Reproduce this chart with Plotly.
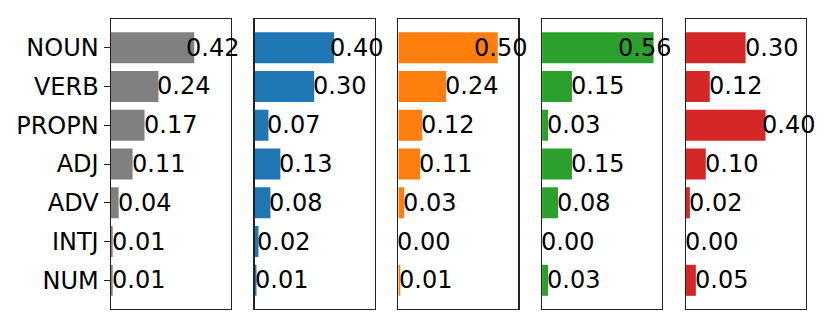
import plotly.graph_objects as go

categories = ["NOUN", "VERB", "PROPN", "ADJ", "ADV", "INTJ", "NUM"]
overall = [0.42, 0.24, 0.17, 0.11, 0.04, 0.01, 0.01]
series_blue = [0.40, 0.30, 0.07, 0.13, 0.08, 0.02, 0.01]
series_orange = [0.50, 0.24, 0.12, 0.11, 0.03, 0.00, 0.01]
series_green = [0.56, 0.15, 0.03, 0.15, 0.08, 0.00, 0.03]
series_red = [0.30, 0.12, 0.40, 0.10, 0.02, 0.00, 0.05]

panels = [overall, series_blue, series_orange, series_green, series_red]
colors = ["#808080", "#1f77b4", "#ff7f0e", "#2ca02c", "#d62728"]

W, H = 830, 328
left0, step, pw = 110.7, 143.8, 120.0
xmax = 0.603
label_cap = 0.385
font = dict(family="DejaVu Sans", size=24, color="black")

fig = go.Figure()
annotations = []
for i, (vals, col) in enumerate(zip(panels, colors)):
    n = "" if i == 0 else str(i + 1)
    fig.add_trace(go.Bar(
        x=vals, y=categories, orientation="h",
        marker=dict(color=col, line=dict(width=0)),
        xaxis="x" + n, yaxis="y" + n, showlegend=False,
        hoverinfo="skip",
    ))
    x0 = left0 + i * step
    fig.layout["xaxis" + n] = dict(
        domain=[x0 / W, (x0 + pw) / W], range=[0, xmax],
        showgrid=False, zeroline=False, showticklabels=False, ticks="",
        showline=True, mirror=True, linecolor="#222", linewidth=1.2,
        anchor="y" + n,
    )
    fig.layout["yaxis" + n] = dict(
        type="category", categoryorder="array", categoryarray=categories,
        range=[6.74, -0.74], showgrid=False, zeroline=False,
        showline=True, mirror=True, linecolor="#222", linewidth=1.2,
        anchor="x" + n,
        showticklabels=(i == 0), ticks="outside" if i == 0 else "",
        ticklen=6, tickcolor="#222", tickfont=font,
    )
    for c, v in zip(categories, vals):
        annotations.append(dict(
            x=min(v, label_cap), y=c, xref="x" + n, yref="y" + n,
            text=f"{v:.2f}", showarrow=False, xanchor="left", yanchor="middle",
            font=font, xshift=-3,
        ))

fig.update_layout(
    width=W, height=H, margin=dict(l=0, r=0, t=19, b=19),
    paper_bgcolor="white", plot_bgcolor="white",
    bargap=0.2, annotations=annotations, font=font,
)
fig.write_html(
    "out.html",
    config={"displayModeBar": False, "staticPlot": True},
    post_script="document.body.style.margin='0';document.body.style.overflow='hidden';",
)
